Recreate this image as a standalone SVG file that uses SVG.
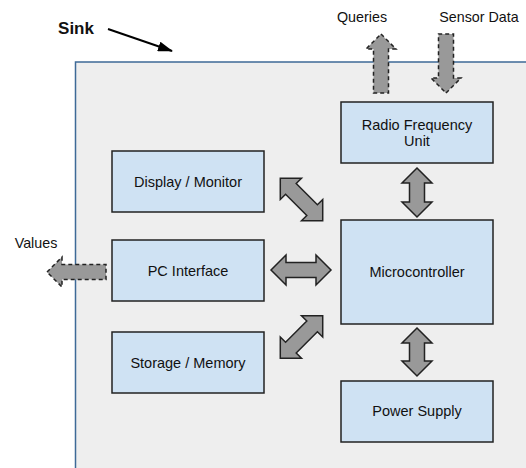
<svg xmlns="http://www.w3.org/2000/svg" width="526" height="468" viewBox="0 0 526 468">
  <style>
    .box { fill: #cfe2f3; stroke: #222; stroke-width: 1.5; }
    .lbl { font-family: "Liberation Sans", Arial, sans-serif; font-size: 14.5px; fill: #111; text-anchor: middle; }
    .out { font-family: "Liberation Sans", Arial, sans-serif; font-size: 14.3px; fill: #111; text-anchor: middle; }
    .arr { fill: #999; stroke: #222; stroke-width: 1.5; stroke-linejoin: miter; }
    .dash { fill: #999; stroke: #222; stroke-width: 1.5; stroke-dasharray: 4 3; }
  </style>
  <defs>
    <!-- double-headed block arrow, length 60, centred on origin -->
    <path id="dbl60" d="M-30,0 L-15,-15 L-15,-7.5 L15,-7.5 L15,-15 L30,0 L15,15 L15,7.5 L-15,7.5 L-15,15 Z"/>
    <marker id="tip" markerWidth="15" markerHeight="10" refX="14" refY="5" orient="auto" markerUnits="userSpaceOnUse" viewBox="0 0 15 10">
      <path d="M0,0 L15,5 L0,10 Z" fill="#000"/>
    </marker>
  </defs>

  <rect width="526" height="468" fill="#fff"/>

  <!-- sink enclosure -->
  <g id="sink">
    <rect x="75.5" y="62" width="500" height="460" fill="#eeeeee" stroke="#3e6a97" stroke-width="1.5"/>
    <text x="76" y="34" font-family="Liberation Sans, Arial, sans-serif" font-size="17" font-weight="bold" fill="#111" text-anchor="middle">Sink</text>
  </g>

  <g id="connectors">
    <line x1="108" y1="29" x2="172" y2="51" stroke="#000" stroke-width="2" marker-end="url(#tip)"/>
    <!-- external data flows -->
    <path class="dash" d="M381,34 L396,49 L388.5,49 L388.5,93 L373.5,93 L373.5,49 L366,49 Z"/>
    <path class="dash" d="M446,93 L461,78 L453.5,78 L453.5,34 L438.5,34 L438.5,78 L431,78 Z"/>
    <path class="dash" d="M47,272 L62,257 L62,264.5 L106,264.5 L106,279.5 L62,279.5 L62,287 Z"/>
    <!-- internal links -->
    <use href="#dbl60" class="arr" transform="translate(301,270)"/>
    <use href="#dbl60" class="arr" transform="translate(301.5,199.5) rotate(45)"/>
    <use href="#dbl60" class="arr" transform="translate(301.5,337) rotate(-45)"/>
    <path class="arr" d="M417,168 L432,183 L424.5,183 L424.5,202 L432,202 L417,217 L402,202 L409.5,202 L409.5,183 L402,183 Z"/>
    <path class="arr" d="M417,328 L432,343 L424.5,343 L424.5,361 L432,361 L417,376 L402,361 L409.5,361 L409.5,343 L402,343 Z"/>
  </g>

  <g id="out-labels">
    <text class="out" x="362" y="22">Queries</text>
    <text class="out" x="479" y="22">Sensor Data</text>
    <text class="out" x="36" y="248">Values</text>
  </g>

  <g id="rf">
    <rect class="box" x="341" y="102" width="152" height="61"/>
    <text class="lbl" x="417" y="130">Radio Frequency</text>
    <text class="lbl" x="417" y="146">Unit</text>
  </g>
  <g id="display">
    <rect class="box" x="112" y="151" width="152" height="61"/>
    <text class="lbl" x="188" y="186.5">Display / Monitor</text>
  </g>
  <g id="pc">
    <rect class="box" x="112" y="240" width="152" height="61"/>
    <text class="lbl" x="188" y="275.5">PC Interface</text>
  </g>
  <g id="storage">
    <rect class="box" x="112" y="332" width="152" height="61"/>
    <text class="lbl" x="188" y="367.5">Storage / Memory</text>
  </g>
  <g id="mcu">
    <rect class="box" x="341" y="220" width="152" height="104"/>
    <text class="lbl" x="417" y="277">Microcontroller</text>
  </g>
  <g id="power">
    <rect class="box" x="341" y="381" width="152" height="61"/>
    <text class="lbl" x="417" y="416">Power Supply</text>
  </g>
</svg>
